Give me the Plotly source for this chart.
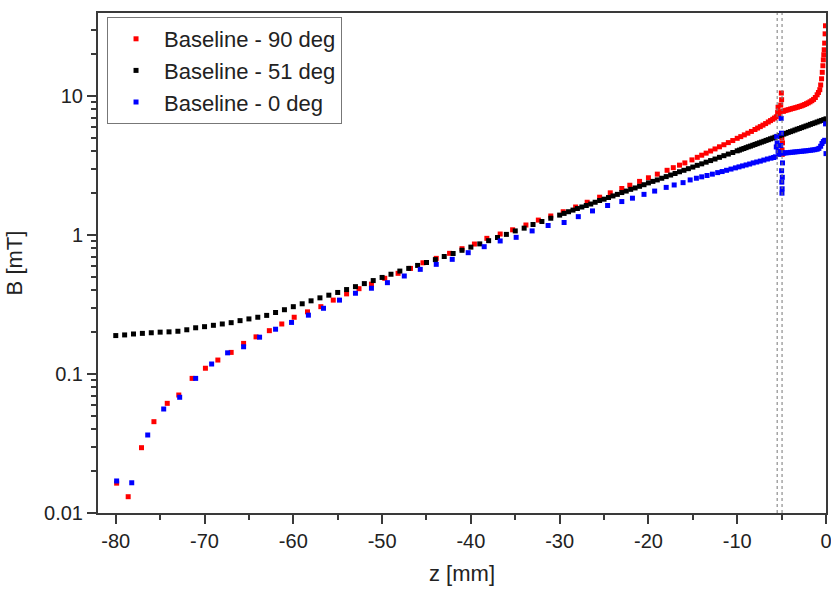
import plotly.graph_objects as go

# B field along z
z_90 = [-79.9, -78.6, -77.1, -75.7, -74.2, -72.9, -71.4, -69.9, -68.5, -67.0,
        -65.6, -64.2, -62.7, -61.3, -59.9, -58.4, -56.9, -55.5, -54.0, -52.6,
        -51.2, -49.7, -48.2, -46.8, -45.4, -43.9, -42.4, -41.0, -39.6, -38.2,
        -36.7, -35.3, -33.8, -32.4, -31.0, -29.6, -28.2, -26.9, -25.5, -24.3,
        -23.0, -22.1, -21.0, -20.0, -19.0, -17.9, -17.2, -16.5, -15.9, -15.1,
        -14.5, -14.0, -13.5, -13.0, -12.5, -12.0, -11.5, -11.0, -10.5, -10.0,
        -9.6, -9.2, -8.8, -8.4, -8.0, -7.7, -7.4, -7.1, -6.8, -6.5,
        -6.25, -6.0, -5.8, -5.6, -5.45, -5.4, -5.3, -5.2, -5.1, -5.03,
        -5.0, -4.97, -4.95, -4.93, -4.9, -4.8, -4.6, -4.4, -4.2, -4.0,
        -3.8, -3.6, -3.4, -3.2, -3.0, -2.8, -2.6, -2.4, -2.2, -2.0,
        -1.8, -1.6, -1.4, -1.2, -1.0, -0.85, -0.7, -0.6, -0.5, -0.42,
        -0.35, -0.3, -0.25, -0.2, -0.15, -0.1, -0.06]
b_90 = [0.0164, 0.0131, 0.0295, 0.0454, 0.0615, 0.0706, 0.093, 0.110, 0.126, 0.143,
        0.166, 0.185, 0.205, 0.229, 0.256, 0.28, 0.305, 0.34, 0.377, 0.411,
        0.443, 0.488, 0.53, 0.575, 0.631, 0.679, 0.738, 0.797, 0.861, 0.946,
        1.016, 1.09, 1.18, 1.28, 1.37, 1.47, 1.59, 1.72, 1.87, 2.01,
        2.16, 2.28, 2.43, 2.58, 2.74, 2.92, 3.05, 3.18, 3.30, 3.47,
        3.62, 3.75, 3.88, 4.02, 4.16, 4.31, 4.46, 4.62, 4.78, 4.96,
        5.10, 5.25, 5.40, 5.56, 5.74, 5.88, 6.02, 6.17, 6.33, 6.50,
        6.65, 6.80, 6.94, 7.08, 7.6, 8.3, 7.4, 7.7, 8.6, 10.5,
        9.4, 5.0, 4.1, 3.8, 4.6, 7.75, 7.85, 7.92, 7.98, 8.05,
        8.12, 8.18, 8.25, 8.32, 8.4, 8.48, 8.57, 8.68, 8.8, 8.93,
        9.08, 9.25, 9.45, 9.75, 10.2, 10.6, 11.1, 12.0, 13.3, 14.8,
        16.5, 18.2, 19.8, 21.5, 24.0, 28.0, 32.0]

z_51 = [-80, -79, -78, -77, -76, -75, -74, -73, -72, -71,
        -70, -69, -68, -67, -66, -65, -64, -63, -62, -61,
        -60, -59, -58, -57, -56, -55, -54, -53, -52, -51,
        -50, -49, -48, -47, -46, -45, -44, -43, -42, -41,
        -40, -39, -38, -37, -36, -35, -34, -33, -32, -31,
        -30, -29.5, -29, -28.5, -28, -27.5, -27, -26.5, -26, -25.5,
        -25, -24.5, -24, -23.5, -23, -22.5, -22, -21.5, -21, -20.5,
        -20, -19.5, -19, -18.5, -18, -17.5, -17, -16.5, -16, -15.5,
        -15, -14.5, -14, -13.5, -13, -12.5, -12, -11.5, -11, -10.5,
        -10, -9.75, -9.5, -9.25, -9, -8.75, -8.5, -8.25, -8, -7.75,
        -7.5, -7.25, -7, -6.75, -6.5, -6.25, -6, -5.75, -5.5, -5.25,
        -5, -4.75, -4.5, -4.25, -4, -3.75, -3.5, -3.25, -3, -2.75,
        -2.5, -2.25, -2, -1.75, -1.5, -1.25, -1, -0.75, -0.5, -0.25, 0]
b_51 = [0.189, 0.191, 0.194, 0.196, 0.198, 0.200, 0.201, 0.203, 0.208, 0.215,
        0.219, 0.224, 0.229, 0.234, 0.242, 0.249, 0.256, 0.264, 0.277, 0.290,
        0.305, 0.320, 0.336, 0.353, 0.369, 0.386, 0.405, 0.425, 0.447, 0.470,
        0.495, 0.522, 0.550, 0.575, 0.604, 0.634, 0.665, 0.700, 0.736, 0.776,
        0.818, 0.863, 0.910, 0.959, 1.01, 1.07, 1.12, 1.19, 1.25, 1.32,
        1.39, 1.43, 1.47, 1.51, 1.55, 1.59, 1.63, 1.67, 1.72, 1.77,
        1.81, 1.86, 1.91, 1.96, 2.02, 2.07, 2.13, 2.18, 2.24, 2.30,
        2.37, 2.43, 2.49, 2.56, 2.63, 2.70, 2.77, 2.85, 2.92, 3.00,
        3.08, 3.17, 3.25, 3.34, 3.43, 3.52, 3.62, 3.72, 3.82, 3.92,
        4.03, 4.08, 4.14, 4.19, 4.25, 4.31, 4.36, 4.42, 4.48, 4.54,
        4.60, 4.66, 4.72, 4.79, 4.85, 4.92, 4.98, 5.05, 5.12, 5.18,
        5.25, 5.32, 5.39, 5.47, 5.54, 5.61, 5.69, 5.77, 5.84, 5.92,
        6.00, 6.08, 6.16, 6.25, 6.33, 6.41, 6.50, 6.59, 6.67, 6.76, 6.85]

z_0 = [-79.9, -78.2, -76.4, -74.6, -72.8, -71.0, -69.2, -67.4, -65.6, -63.8,
       -62.0, -60.2, -58.3, -56.6, -54.8, -53.0, -51.2, -49.4, -47.5, -45.7,
       -43.9, -42.1, -40.3, -38.5, -36.7, -34.9, -33.1, -31.3, -29.5, -27.9,
       -26.3, -24.6, -23.0, -21.8, -20.5, -19.3, -18.0, -17.1, -16.1, -15.3,
       -14.6, -14.0, -13.4, -12.8, -12.2, -11.7, -11.2, -10.7, -10.2, -9.8,
       -9.4, -9.0, -8.6, -8.2, -7.8, -7.4, -7.0, -6.6, -6.2, -5.9,
       -5.7, -5.6, -5.55, -5.5, -5.4, -5.3, -5.2, -5.1, -5.05, -5.02,
       -5.0, -4.98, -4.96, -4.94, -4.92, -4.9, -4.85, -4.75, -4.5, -4.25,
       -4.0, -3.75, -3.5, -3.25, -3.0, -2.75, -2.5, -2.25, -2.0, -1.75,
       -1.5, -1.25, -1.0, -0.8, -0.6, -0.45, -0.3, -0.15, -0.05, 0.0]
b_0 = [0.017, 0.0165, 0.0364, 0.056, 0.068, 0.093, 0.118, 0.142, 0.157, 0.184,
       0.21, 0.235, 0.265, 0.297, 0.34, 0.381, 0.414, 0.454, 0.507, 0.566,
       0.615, 0.668, 0.746, 0.824, 0.906, 0.962, 1.07, 1.17, 1.23, 1.355,
       1.49, 1.63, 1.74, 1.84, 1.96, 2.07, 2.2, 2.29, 2.38, 2.49,
       2.56, 2.62, 2.68, 2.74, 2.81, 2.86, 2.92, 2.98, 3.04, 3.09,
       3.14, 3.19, 3.24, 3.30, 3.35, 3.40, 3.46, 3.52, 3.57, 3.61,
       3.65, 4.3, 5.1, 4.6, 4.0, 3.8, 3.9, 4.4, 6.9, 5.4,
       2.9, 2.4, 2.0, 2.15, 2.6, 3.3, 3.9, 3.88, 3.9, 3.91,
       3.93, 3.94, 3.96, 3.97, 3.99, 4.0, 4.02, 4.03, 4.05, 4.07,
       4.09, 4.11, 4.14, 4.2, 4.35, 4.55, 4.7, 4.8, 6.3, 3.85]

names = ["Baseline - 90 deg", "Baseline - 51 deg", "Baseline - 0 deg"]
colors = ["#ff0000", "#000000", "#0000ff"]
ref_lines = [-5.5, -4.95]

x_ticks = [-80, -70, -60, -50, -40, -30, -20, -10, 0]
x_ticktext = ["-80", "-70", "-60", "-50", "-40", "-30", "-20", "-10", "0"]
y_ticks = [0.01, 0.1, 1, 10]
y_ticktext = ["0.01", "0.1", "1", "10"]

FONT = "Arial, Liberation Sans, sans-serif"
AXCOL = "#3a3a3a"

fig = go.Figure()
for zz, bb, nm, col in zip([z_90, z_51, z_0], [b_90, b_51, b_0], names, colors):
    fig.add_trace(go.Scatter(x=zz, y=bb, name=nm, mode="markers",
                             marker=dict(symbol="square", size=5, color=col,
                                         line=dict(width=0))))

for xv in ref_lines:
    fig.add_shape(type="line", xref="x", yref="paper", x0=xv, x1=xv, y0=0, y1=1,
                  line=dict(color="#777777", width=1, dash="dot"))

minor_y = [m * 10 ** e for e in (-2, -1, 0, 1) for m in range(2, 10)]

fig.update_layout(
    width=831, height=590,
    margin=dict(l=98, r=5, t=13, b=77),
    paper_bgcolor="white", plot_bgcolor="white",
    font=dict(family=FONT, size=20, color="#222222"),
    showlegend=True,
    legend=dict(x=0.0124, y=0.992, xanchor="left", yanchor="top",
                bgcolor="white", bordercolor="#777777", borderwidth=1,
                font=dict(size=22), itemwidth=46, tracegroupgap=0),
    xaxis=dict(range=[-82.0, 0], showgrid=False, zeroline=False, automargin=False,
               showline=True, linecolor=AXCOL, linewidth=2, mirror=True,
               ticks="outside", ticklen=9, tickwidth=1.5, tickcolor=AXCOL,
               tickvals=x_ticks, ticktext=x_ticktext, ticklabeloverflow="allow",
               minor=dict(ticks="outside", ticklen=5, tickwidth=1.5,
                          tickcolor=AXCOL, dtick=5, tick0=0),
               title=dict(text="z [mm]", font=dict(size=22))),
    yaxis=dict(type="log", range=[-2, 1.597], showgrid=False, zeroline=False,
               automargin=False,
               showline=True, linecolor=AXCOL, linewidth=2, mirror=True,
               ticks="outside", ticklen=9, tickwidth=1.5, tickcolor=AXCOL,
               tickvals=y_ticks, ticktext=y_ticktext,
               minor=dict(ticks="outside", ticklen=5, tickwidth=1.5,
                          tickcolor=AXCOL, tickvals=minor_y),
               title=dict(text="B [mT]", font=dict(size=22))),
)

# the page body has a default 8px margin; drop it so the figure fills the window
fig.write_html("out.html", config={"displayModeBar": False},
               post_script="document.body.style.margin='0px';")
